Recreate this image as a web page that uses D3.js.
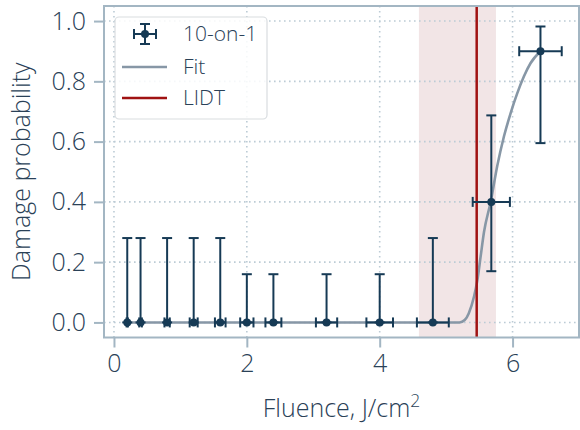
<!DOCTYPE html>
<html><head><meta charset="utf-8">
<script src="https://cdn.jsdelivr.net/npm/d3@7"></script>
<style>
html,body{margin:0;padding:0;background:#fff;}
svg text{font-family:"Open Sans",sans-serif;font-weight:300;fill:#2a4157;}
</style></head>
<body>
<svg id="chart" width="580" height="430"></svg>
<script>
// ---- data ----
const fluence   = [0.2, 0.4, 0.8, 1.2, 1.6, 2.0, 2.4, 3.2, 4.0, 4.8, 5.68, 6.42];
const prob      = [0, 0, 0, 0, 0, 0, 0, 0, 0, 0, 0.40, 0.90];
const xErr      = [0.01, 0.02, 0.04, 0.06, 0.08, 0.10, 0.12, 0.16, 0.20, 0.24, 0.28, 0.32];
const yErrLow   = [0, 0, 0, 0, 0, 0, 0, 0, 0, 0, 0.23, 0.305];
const yErrHigh  = [0.28, 0.28, 0.28, 0.28, 0.28, 0.16, 0.16, 0.16, 0.16, 0.28, 0.287, 0.082];
const fitX      = [0.2, 5.2, 5.28, 5.34, 5.42, 5.47, 5.52, 5.57, 5.67, 5.77, 5.87, 5.97, 6.07, 6.17, 6.27, 6.42];
const fitY      = [0, 0, 0.008, 0.03, 0.086, 0.14, 0.22, 0.30, 0.40, 0.52, 0.617, 0.694, 0.76, 0.816, 0.86, 0.90];
const lidt      = 5.46;
const lidtBand  = [4.59, 5.75];
const xTicks    = [0, 2, 4, 6];
const yTicks    = [0, 0.2, 0.4, 0.6, 0.8, 1.0];
const legendLabels = ["10-on-1", "Fit", "LIDT"];

// ---- style ----
const C_DATA = "#163a55", C_FIT = "#8797a6", C_LIDT = "#a01212", C_BAND = "#f2e5e6",
      C_SPINE = "#a3b6c3", C_GRID = "#bccbd5";
const FS = 25;

const svg = d3.select("#chart");
const L = 104, R = 579, T = 6, B = 337.5;
const x = d3.scaleLinear().domain([-0.15, 7.0]).range([L, R]);
const y = d3.scaleLinear().domain([-0.05, 1.05]).range([B, T]);

// band
svg.append("rect").attr("x", x(lidtBand[0])).attr("y", T)
  .attr("width", x(lidtBand[1]) - x(lidtBand[0])).attr("height", B - T).attr("fill", C_BAND);

// grid
const grid = svg.append("g").attr("stroke", C_GRID).attr("stroke-width", 1.6)
  .attr("stroke-dasharray", "1.6,3.4").attr("stroke-linecap", "butt");
xTicks.forEach(t => grid.append("line").attr("x1", x(t)).attr("x2", x(t)).attr("y1", T).attr("y2", B));
yTicks.forEach(t => grid.append("line").attr("y1", y(t)).attr("y2", y(t)).attr("x1", L).attr("x2", R));

// axes
const xAxis = svg.append("g").attr("transform", `translate(0,${B})`)
  .call(d3.axisBottom(x).tickValues(xTicks).tickFormat(d3.format("d")).tickSize(10).tickPadding(7));
const yAxis = svg.append("g").attr("transform", `translate(${L},0)`)
  .call(d3.axisLeft(y).tickValues(yTicks).tickFormat(d3.format(".1f")).tickSize(10).tickPadding(8));
[xAxis, yAxis].forEach(a => {
  a.select(".domain").remove();
  a.selectAll(".tick line").attr("stroke", C_SPINE).attr("stroke-width", 2);
  a.selectAll(".tick text").attr("font-size", FS).attr("fill", "#2a4157")
    .style("font-family", "'Open Sans',sans-serif").style("font-weight", 300);
});

// fit line
svg.append("path").datum(fitX.map((v, i) => [v, fitY[i]]))
  .attr("fill", "none").attr("stroke", C_FIT).attr("stroke-width", 2.6)
  .attr("d", d3.line().x(d => x(d[0])).y(d => y(d[1])).curve(d3.curveMonotoneX));

// LIDT line
svg.append("line").attr("x1", x(lidt)).attr("x2", x(lidt)).attr("y1", T).attr("y2", B)
  .attr("stroke", C_LIDT).attr("stroke-width", 2.5);

// error bars
const eb = svg.append("g").attr("stroke", C_DATA).attr("stroke-width", 2).attr("fill", "none");
const cap = 5;
fluence.forEach((f, i) => {
  const cx = x(f), cy = y(prob[i]);
  const y0 = y(prob[i] - yErrLow[i]), y1 = y(prob[i] + yErrHigh[i]);
  const x0 = x(f - xErr[i]), x1 = x(f + xErr[i]);
  eb.append("line").attr("x1", cx).attr("x2", cx).attr("y1", y0).attr("y2", y1);
  eb.append("line").attr("x1", cx - cap).attr("x2", cx + cap).attr("y1", y1).attr("y2", y1);
  eb.append("line").attr("x1", cx - cap).attr("x2", cx + cap).attr("y1", y0).attr("y2", y0);
  eb.append("line").attr("x1", x0).attr("x2", x1).attr("y1", cy).attr("y2", cy);
  eb.append("line").attr("x1", x0).attr("x2", x0).attr("y1", cy - cap).attr("y2", cy + cap);
  eb.append("line").attr("x1", x1).attr("x2", x1).attr("y1", cy - cap).attr("y2", cy + cap);
});
svg.append("g").selectAll("circle").data(fluence).join("circle")
  .attr("cx", d => x(d)).attr("cy", (d, i) => y(prob[i])).attr("r", 4).attr("fill", C_DATA);

// spines
const sp = svg.append("g").attr("stroke", C_SPINE).attr("stroke-width", 2).attr("fill", "none");
sp.append("rect").attr("x", L).attr("y", T).attr("width", R - L).attr("height", B - T);

// legend
const lg = svg.append("g");
lg.append("rect").attr("x", 115).attr("y", 17).attr("width", 152).attr("height", 102).attr("rx", 4)
  .attr("fill", "#fff").attr("fill-opacity", 0.85).attr("stroke", "#d9dde0").attr("stroke-width", 1.2);
const ly = [34, 67, 98];
const hx = 145;
const lgEb = lg.append("g").attr("stroke", C_DATA).attr("stroke-width", 2);
lgEb.append("line").attr("x1", hx).attr("x2", hx).attr("y1", ly[0] - 10).attr("y2", ly[0] + 10);
lgEb.append("line").attr("x1", hx - 5).attr("x2", hx + 5).attr("y1", ly[0] - 10).attr("y2", ly[0] - 10);
lgEb.append("line").attr("x1", hx - 5).attr("x2", hx + 5).attr("y1", ly[0] + 10).attr("y2", ly[0] + 10);
lgEb.append("line").attr("x1", hx - 11).attr("x2", hx + 11).attr("y1", ly[0]).attr("y2", ly[0]);
lgEb.append("line").attr("x1", hx - 11).attr("x2", hx - 11).attr("y1", ly[0] - 5).attr("y2", ly[0] + 5);
lgEb.append("line").attr("x1", hx + 11).attr("x2", hx + 11).attr("y1", ly[0] - 5).attr("y2", ly[0] + 5);
lg.append("circle").attr("cx", hx).attr("cy", ly[0]).attr("r", 4).attr("fill", C_DATA);
lg.append("line").attr("x1", 122).attr("x2", 167).attr("y1", ly[1]).attr("y2", ly[1]).attr("stroke", C_FIT).attr("stroke-width", 2.6);
lg.append("line").attr("x1", 122).attr("x2", 167).attr("y1", ly[2]).attr("y2", ly[2]).attr("stroke", C_LIDT).attr("stroke-width", 2.5);
legendLabels.forEach((t, i) => lg.append("text").attr("x", 183).attr("y", ly[i]).attr("dy", "0.35em")
  .attr("font-size", 21).text(t));

// axis labels
const xl = svg.append("text").attr("x", (L + R) / 2 - 0).attr("y", 417).attr("text-anchor", "middle").attr("font-size", FS);
xl.append("tspan").text("Fluence, J/cm");
xl.append("tspan").attr("font-size", FS * 0.7).attr("dy", -10).text("2");
svg.append("text").attr("transform", `translate(30,${(T + B) / 2}) rotate(-90)`).attr("text-anchor", "middle")
  .attr("font-size", FS).text("Damage probability");
</script>
</body></html>
